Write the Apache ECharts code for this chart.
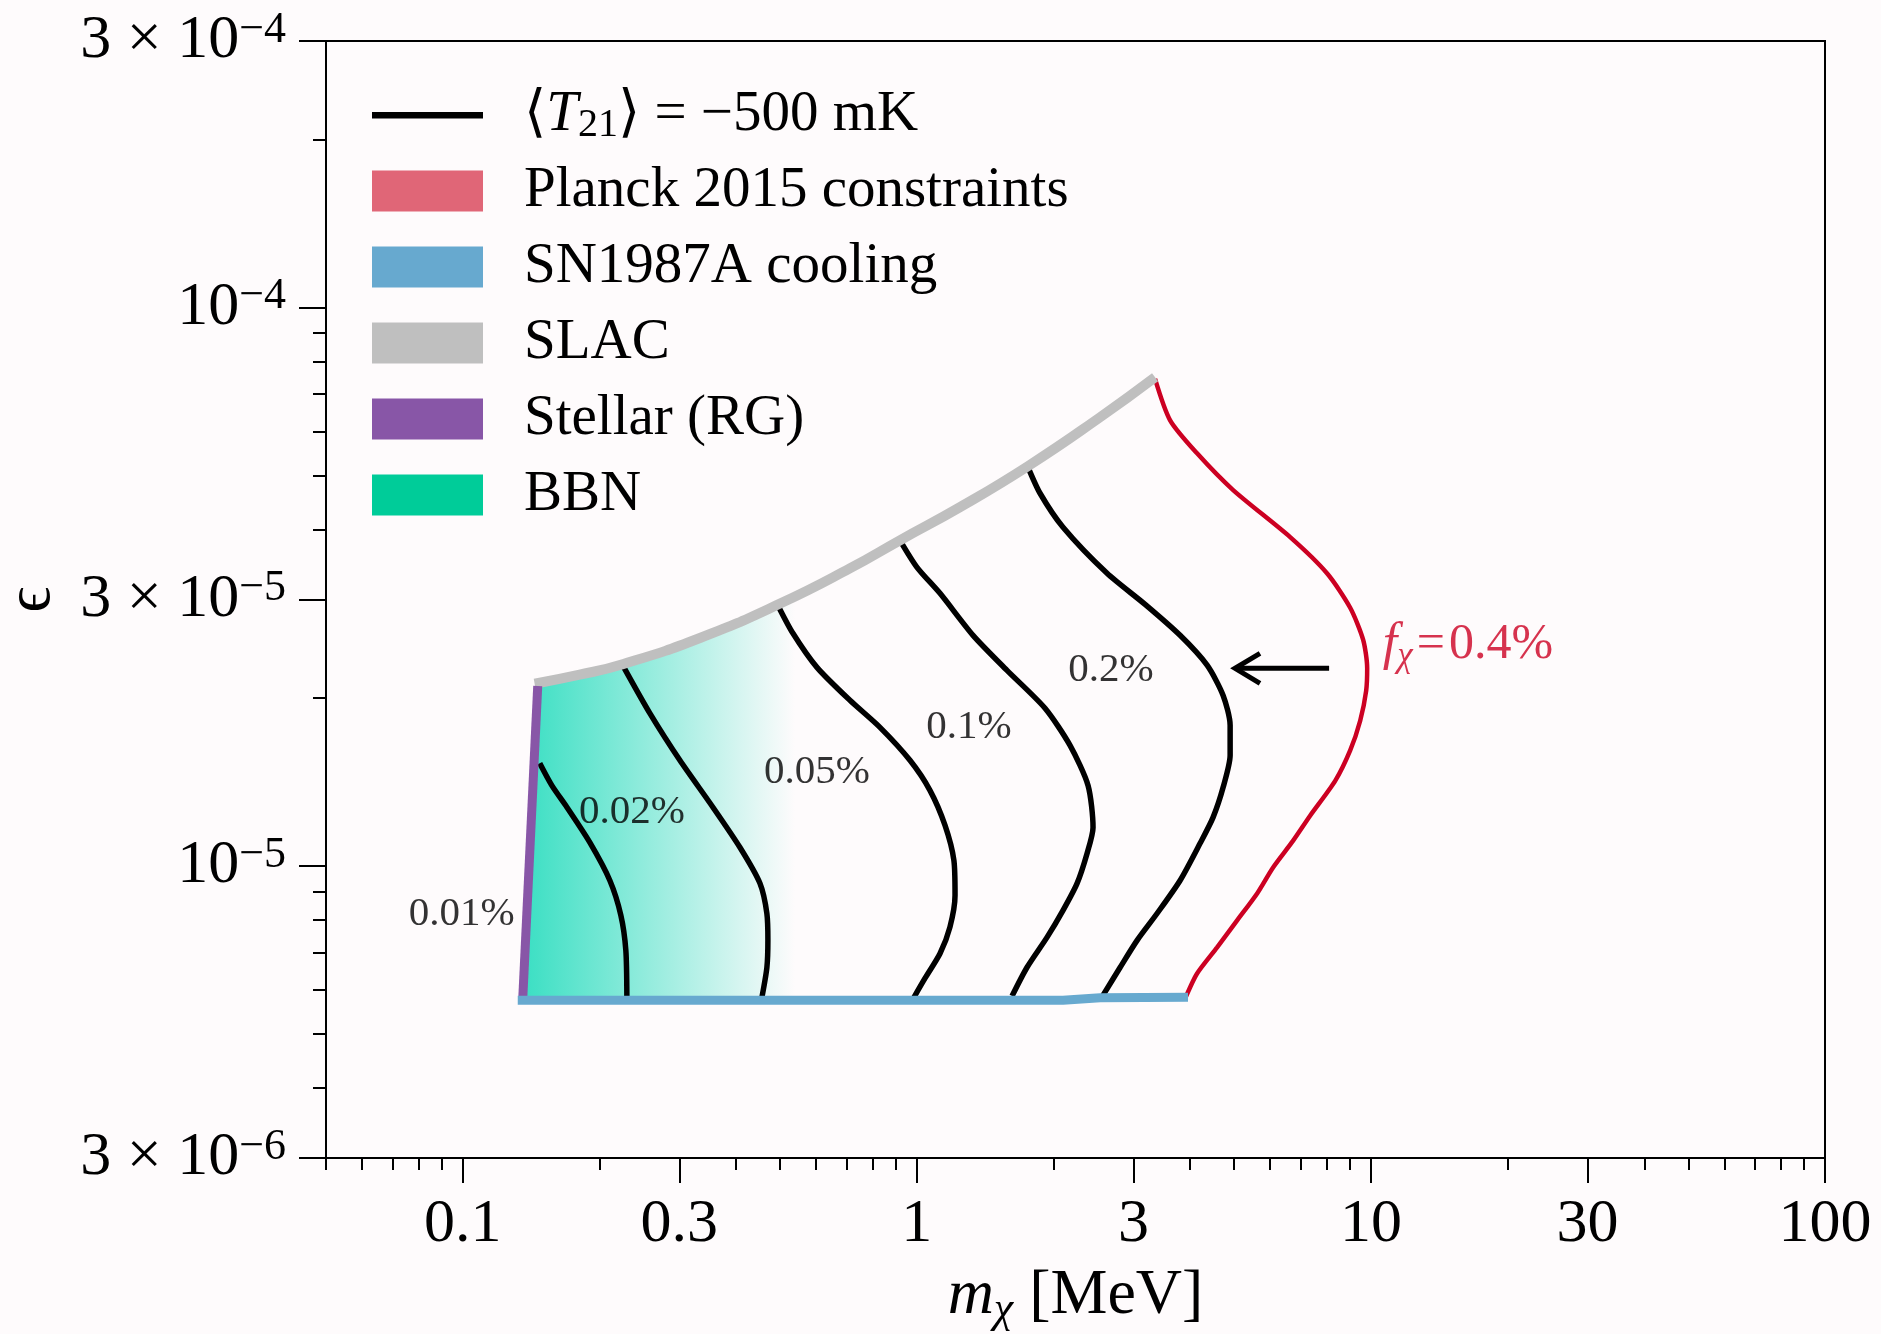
<!DOCTYPE html>
<html><head><meta charset="utf-8">
<script src="https://cdn.jsdelivr.net/npm/echarts@6/dist/echarts.min.js"></script>
<style>html,body{margin:0;padding:0;background:#fefbfc}#c{width:1881px;height:1334px}</style>
</head><body><div id="c"></div>
<script>
// ---------------- data ----------------
const xTickValues = [0.1, 0.3, 1, 3, 10, 30, 100];
const xTickLabels = ['0.1', '0.3', '1', '3', '10', '30', '100'];
const xMinorTicks = [0.05,0.06,0.07,0.08,0.09,0.2,0.4,0.5,0.6,0.7,0.8,0.9,2,4,5,6,7,8,9,20,40,50,60,70,80,90];
const yTickValues = [3e-6, 1e-5, 3e-5, 1e-4, 3e-4];
const yTickMantissa = ['3 × 10', '10', '3 × 10', '10', '3 × 10'];
const yTickExponent = ['−6', '−5', '−5', '−4', '−4'];
const yMinorTicks = [4e-6,5e-6,6e-6,7e-6,8e-6,9e-6,2e-5,4e-5,5e-5,6e-5,7e-5,8e-5,9e-5,2e-4];

// constraint boundaries  [m_chi (MeV), epsilon]
const slacBound = [[0.144,2.12e-5],[0.181,2.20e-5],[0.226,2.30e-5],[0.333,2.56e-5],[0.500,2.95e-5],[0.712,3.41e-5],[0.918,3.83e-5],[1.245,4.39e-5],[1.758,5.20e-5],[2.533,6.36e-5],[3.347,7.50e-5]];
const stellarBound = [[0.1463,2.10e-5],[0.1356,5.79e-6]];
const sn1987aBound = [[0.1322,5.75e-6],[2.099,5.75e-6],[2.533,5.81e-6],[3.956,5.82e-6]];
const planckContour = [[3.347,7.45e-5],[3.613,6.28e-5],[4.142,5.48e-5],[4.973,4.71e-5],[6.640,3.88e-5],[8.012,3.34e-5],[9.003,2.90e-5],[9.616,2.54e-5],[9.813,2.26e-5],[9.763,2.06e-5],[9.471,1.82e-5],[9.003,1.61e-5],[8.343,1.42e-5],[7.347,1.23e-5],[6.742,1.11e-5],[6.090,9.94e-6],[5.617,8.93e-6],[5.075,7.99e-6],[4.585,7.15e-6],[4.142,6.42e-6],[3.917,5.84e-6]];
const bbnFadeEndX = 0.54;

// <T21> = -500 mK contours for f_chi = 0.01%, 0.02%, 0.05%, 0.1%, 0.2%
const contour001 = [[0.1478,1.527e-5],[0.1571,1.394e-5],[0.1696,1.274e-5],[0.1905,1.102e-5],[0.2109,9.42e-6],[0.2230,8.16e-6],[0.2287,7.06e-6],[0.2299,5.82e-6]];
const contour002 = [[0.2264,2.268e-5],[0.2584,1.876e-5],[0.3008,1.546e-5],[0.3556,1.274e-5],[0.4077,1.080e-5],[0.4514,9.31e-6],[0.4676,8.22e-6],[0.4700,7.36e-6],[0.4676,6.58e-6],[0.4560,5.82e-6]];
const contour005 = [[0.4945,2.928e-5],[0.5336,2.610e-5],[0.6027,2.268e-5],[0.7124,1.980e-5],[0.8296,1.771e-5],[0.9660,1.546e-5],[1.069,1.366e-5],[1.154,1.182e-5],[1.207,1.023e-5],[1.214,8.86e-6],[1.183,7.77e-6],[1.125,6.97e-6],[1.042,6.29e-6],[0.9858,5.82e-6]];
const contour01 = [[0.9182,3.829e-5],[1.001,3.426e-5],[1.125,3.077e-5],[1.330,2.588e-5],[1.580,2.240e-5],[1.916,1.916e-5],[2.175,1.644e-5],[2.383,1.394e-5],[2.444,1.172e-5],[2.371,1.053e-5],[2.254,9.31e-6],[2.099,8.33e-6],[1.935,7.45e-6],[1.748,6.58e-6],[1.621,5.85e-6]];
const contour02 = [[1.758,5.173e-5],[1.868,4.649e-5],[2.099,4.041e-5],[2.624,3.342e-5],[3.182,2.940e-5],[3.800,2.588e-5],[4.358,2.288e-5],[4.727,2.020e-5],[4.898,1.786e-5],[4.898,1.578e-5],[4.727,1.383e-5],[4.492,1.222e-5],[4.206,1.098e-5],[3.800,9.42e-6],[3.381,8.22e-6],[3.056,7.36e-6],[2.803,6.58e-6],[2.572,5.87e-6]];
const contours = [contour001, contour002, contour005, contour01, contour02];

// annotations
const contourLabelText = ['0.01%', '0.02%', '0.05%', '0.1%', '0.2%'];
const contourLabelAt = [[0.0995,8.19e-6],[0.2358,1.247e-5],[0.6027,1.471e-5],[1.303,1.771e-5],[2.678,2.240e-5]];
const planckLabelParts = ['f', 'χ', '\u200a=\u200a0.4%'];
const planckLabelAt = [10.59, 2.484e-5];
const arrowTail = [8.09, 2.259e-5];
const arrowTip = [5.02, 2.259e-5];

const legendNames = ['T21', 'Planck 2015 constraints', 'SN1987A cooling', 'SLAC', 'Stellar (RG)', 'BBN'];
const legendColors = ['#000000', '#e06677', '#67a9cf', '#bfbfbf', '#8856a7', '#00cc99'];

// ---------------- chart ----------------
const FONT = "'Liberation Serif', 'DejaVu Serif', serif";
const BLACK = '#000';
const RED = '#cc0022';
const chart = echarts.init(document.getElementById('c'), null, {renderer: 'canvas', width: 1881, height: 1334});

function yLabel(v) {
  const i = yTickValues.findIndex(t => Math.abs(t - v) / t < 1e-6);
  return i < 0 ? '' : '{b|' + yTickMantissa[i] + '}{s|' + yTickExponent[i] + '}';
}
function xLabel(v) {
  const i = xTickValues.findIndex(t => Math.abs(t - v) / t < 1e-6);
  return i < 0 ? '' : xTickLabels[i];
}

const gridBox = {left: 326, right: 56, top: 41, bottom: 176};

// BBN shaded region polygon (data-space vertices)
function bbnPolygon() {
  const pts = [stellarBound[0]];
  for (let k = 0; k < slacBound.length; k++) {
    const p = slacBound[k];
    if (p[0] > stellarBound[0][0] && p[0] < bbnFadeEndX) pts.push(p);
    if (k > 0 && slacBound[k - 1][0] < bbnFadeEndX && p[0] >= bbnFadeEndX) {
      const a = slacBound[k - 1];
      const t = (Math.log10(bbnFadeEndX) - Math.log10(a[0])) / (Math.log10(p[0]) - Math.log10(a[0]));
      const ly = Math.log10(a[1]) + t * (Math.log10(p[1]) - Math.log10(a[1]));
      pts.push([bbnFadeEndX, Math.pow(10, ly)]);
    }
  }
  pts.push([bbnFadeEndX, sn1987aBound[0][1]]);
  pts.push(stellarBound[1]);
  return pts;
}

const series = [];
series.push({
  type: 'custom', name: 'BBN', coordinateSystem: 'cartesian2d', xAxisIndex: 0, yAxisIndex: 0,
  data: [[bbnFadeEndX, sn1987aBound[0][1]]], z: 1, silent: true,
  itemStyle: {color: '#00cc99'},
  renderItem: function (params, api) {
    const pts = bbnPolygon().map(p => api.coord(p));
    return {
      type: 'polygon', shape: {points: pts},
      style: {fill: new echarts.graphic.LinearGradient(0, 0, 1, 0, [
        {offset: 0, color: 'rgba(58,223,195,1)'},
        {offset: 0.5, color: 'rgba(58,223,195,0.5)'},
        {offset: 1, color: 'rgba(58,223,195,0.0)'}
      ])}
    };
  }
});
contours.forEach(c => series.push({
  type: 'line', name: 'T21', data: c, symbol: 'none', smooth: 0.25, z: 3, silent: true,
  lineStyle: {color: BLACK, width: 5.5}, itemStyle: {color: BLACK}
}));
series.push({type: 'line', name: 'Planck 2015 constraints', data: planckContour, symbol: 'none', smooth: 0.25, z: 4, silent: true,
  lineStyle: {color: RED, width: 4.5}, itemStyle: {color: RED}});
series.push({type: 'line', name: 'SLAC', data: slacBound, symbol: 'none', smooth: 0.5, z: 5, silent: true,
  lineStyle: {color: '#bfbfbf', width: 10}, itemStyle: {color: '#bfbfbf'}});
series.push({type: 'line', name: 'Stellar (RG)', data: stellarBound, symbol: 'none', z: 5, silent: true,
  lineStyle: {color: '#8856a7', width: 9}, itemStyle: {color: '#8856a7'}});
series.push({type: 'line', name: 'SN1987A cooling', data: sn1987aBound, symbol: 'none', z: 6, silent: true,
  lineStyle: {color: '#67a9cf', width: 9}, itemStyle: {color: '#67a9cf'}});
series.push({
  type: 'custom', name: 'arrow', coordinateSystem: 'cartesian2d', data: [arrowTip], z: 8, silent: true,
  renderItem: function (params, api) {
    const t = api.coord(arrowTail), h = api.coord(arrowTip);
    return {type: 'group', children: [
      {type: 'line', shape: {x1: t[0], y1: t[1], x2: h[0] + 2, y2: h[1]}, style: {stroke: BLACK, lineWidth: 5}},
      {type: 'polyline', shape: {points: [[h[0] + 25, h[1] - 15], [h[0], h[1]], [h[0] + 25, h[1] + 15]]}, style: {stroke: BLACK, lineWidth: 5, fill: null}}
    ]};
  }
});
series.push({
  type: 'scatter', name: 'contourLabels', z: 10, silent: true, symbolSize: 1,
  itemStyle: {color: 'rgba(0,0,0,0)'},
  data: contourLabelAt.map((p, i) => ({value: p, name: contourLabelText[i]})),
  label: {show: true, position: 'inside', formatter: '{b}', fontSize: 41, fontFamily: FONT, color: BLACK,
    textBorderWidth: 0, textBorderColor: 'transparent', textShadowBlur: 0}
});
series.push({
  type: 'scatter', name: 'planckLabel', z: 10, silent: true, symbolSize: 1,
  itemStyle: {color: 'rgba(0,0,0,0)'},
  data: [{value: planckLabelAt}],
  label: {show: true, position: 'right', distance: 0,
    formatter: '{i|' + planckLabelParts[0] + '}{s|' + planckLabelParts[1] + '}{n|' + planckLabelParts[2] + '}',
    rich: {
      i: {fontSize: 52, fontStyle: 'italic', fontFamily: FONT, color: RED, lineHeight: 58},
      s: {fontSize: 35, fontStyle: 'italic', fontFamily: FONT, color: RED, lineHeight: 34, verticalAlign: 'bottom'},
      n: {fontSize: 50, fontFamily: FONT, color: RED, lineHeight: 58}
    }}
});

const tickStyle = {color: BLACK, width: 2};
const option = {
  backgroundColor: '#fefbfc',
  animation: false,
  grid: [
    Object.assign({show: true, borderColor: BLACK, borderWidth: 2, backgroundColor: 'transparent', containLabel: false, outerBoundsMode: 'none'}, gridBox),
    Object.assign({show: false, containLabel: false, outerBoundsMode: 'none'}, gridBox)
  ],
  xAxis: [
    {type: 'log', logBase: 10, gridIndex: 0, min: 0.05, max: 100, position: 'bottom',
     axisLine: {show: true, onZero: false, lineStyle: tickStyle},
     axisTick: {show: true, customValues: xTickValues, length: 25, lineStyle: tickStyle},
     axisLabel: {show: true, customValues: xTickValues, formatter: xLabel, margin: 36, fontSize: 62, fontFamily: FONT, color: BLACK},
     splitLine: {show: false}, minorTick: {show: false},
     name: '{i|m}{s|χ}{n| [MeV]}', nameLocation: 'middle', nameGap: 102, nameMoveOverlap: false,
     nameTextStyle: {fontFamily: FONT, color: BLACK, rich: {
       i: {fontSize: 64, fontStyle: 'italic', fontFamily: FONT, color: BLACK, lineHeight: 72},
       s: {fontSize: 44, fontStyle: 'italic', fontFamily: FONT, color: BLACK, lineHeight: 42, verticalAlign: 'bottom'},
       n: {fontSize: 64, fontFamily: FONT, color: BLACK, lineHeight: 72}
     }}},
    {type: 'log', logBase: 10, gridIndex: 1, min: 0.05, max: 100, position: 'bottom',
     axisLine: {show: false}, axisLabel: {show: false}, splitLine: {show: false},
     axisTick: {show: true, customValues: xMinorTicks, length: 12, lineStyle: tickStyle}}
  ],
  yAxis: [
    {type: 'log', logBase: 10, gridIndex: 0, min: 3e-6, max: 3e-4, position: 'left',
     axisLine: {show: true, onZero: false, lineStyle: tickStyle},
     axisTick: {show: true, customValues: yTickValues, length: 27, lineStyle: tickStyle},
     axisLabel: {show: true, customValues: yTickValues, formatter: yLabel, margin: 40, rich: {
       b: {fontSize: 62, fontFamily: FONT, color: BLACK, lineHeight: 66},
       s: {fontSize: 44, fontFamily: FONT, color: BLACK, lineHeight: 34, verticalAlign: 'top'}
     }},
     splitLine: {show: false}, minorTick: {show: false},
     name: 'ϵ', nameLocation: 'middle', nameRotate: 90, nameGap: 262, nameMoveOverlap: false,
     nameTextStyle: {fontFamily: FONT, fontSize: 64, color: BLACK}},
    {type: 'log', logBase: 10, gridIndex: 1, min: 3e-6, max: 3e-4, position: 'left',
     axisLine: {show: false}, axisLabel: {show: false}, splitLine: {show: false},
     axisTick: {show: true, customValues: yMinorTicks, length: 13, lineStyle: tickStyle}}
  ],
  legend: {
    show: true, orient: 'vertical', left: 367, top: 80, itemWidth: 111, itemHeight: 41, itemGap: 16,
    selectedMode: false, symbolKeepAspect: false,
    data: legendNames.map((n, i) => ({
      name: n,
      icon: n === 'T21' ? 'path://M0,0 M111,41 M0,17.5 L111,17.5 L111,24 L0,24 Z' : 'rect',
      itemStyle: {color: legendColors[i], borderWidth: 0}
    })),
    formatter: function (name) {
      if (name === 'T21') return '{a|⟨}{i|T}{sub|21}{a|⟩ = −500 mK}';
      return '{a|' + name + '}';
    },
    textStyle: {fontFamily: FONT, fontSize: 57, color: BLACK, lineHeight: 60, padding: [0, 0, 0, 36],
      rich: {
        a: {fontSize: 57, fontFamily: FONT, color: BLACK, lineHeight: 60},
        i: {fontSize: 57, fontFamily: FONT, fontStyle: 'italic', color: BLACK, lineHeight: 60},
        sub: {fontSize: 40, fontFamily: FONT, color: BLACK, lineHeight: 38, verticalAlign: 'bottom'}
      }}
  },
  series: series
};
chart.setOption(option);
</script>
</body></html>
